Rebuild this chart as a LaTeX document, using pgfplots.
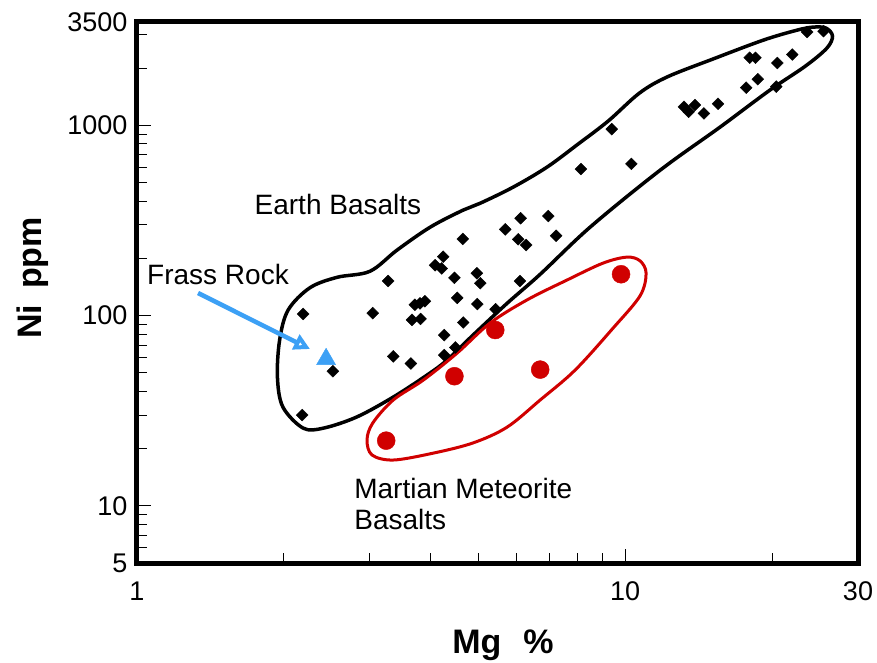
\documentclass[border=0pt]{standalone}
\usepackage{fontspec}
\setmainfont{Liberation Sans}
\usepackage{pgfplots}
\pgfplotsset{compat=1.18}
\usetikzlibrary{arrows.meta}
\definecolor{mred}{RGB}{208,0,0}
\definecolor{mblue}{RGB}{60,160,245}
\begin{document}
\begin{tikzpicture}
\useasboundingbox (-137pt,-99pt) rectangle (740pt,563pt);
\begin{axis}[
 at={(0pt,0pt)}, anchor=south west,
 scale only axis, width=721pt, height=541pt,
 xmode=log, ymode=log,
 xmin=1, xmax=30, ymin=5, ymax=3500,
 axis line style={line width=5pt},
 xtick={1,10,30}, xticklabels={1,10,30},
 ytick={5,10,100,1000,3500}, yticklabels={5,10,100,1000,3500},
 minor xtick={2,3,4,5,6,7,8,9,20},
 minor ytick={6,7,8,9,20,30,40,50,60,70,80,90,200,300,400,500,600,700,800,900,2000,3000},
 tick align=inside, tick pos=left,
 major tick length=14pt, minor tick length=10pt,
 every tick/.style={black, line width=1pt},
 ticklabel style={font=\fontsize{27}{32}\selectfont},
 xticklabel style={yshift=-15pt},
 yticklabel style={xshift=-6pt},
 xlabel={Mg\hspace{22pt}\%}, ylabel={Ni\hspace{16pt}ppm},
 label style={font=\fontsize{34}{40}\selectfont\bfseries},
 xlabel style={at={(axis description cs:0.5076,-0.1664)}, anchor=base},
 ylabel style={at={(axis description cs:-0.1318,0.5268)}, anchor=base},
 clip=false,
]
% Earth basalt envelope
\addplot[black, line width=3.5pt, smooth cycle, tension=0.55] coordinates {
(25.8,3250)(24.3,3290)(22.5,3170)(19.2,2810)(15.1,2230)(12.2,1800)(10.7,1480)
(9.23,1054)(8.01,798)(6.92,604)(5.90,474)(5.05,390)(4.66,359)(3.99,292)(3.41,221)
(3.00,171)(2.57,159)(2.26,140)(2.04,107)(1.96,74.4)(1.94,47.5)(1.99,33.1)(2.19,25.6)
(2.41,25.6)(2.82,29.3)(3.35,37.3)(3.93,48.7)(4.32,58.4)(4.88,79)(5.73,116)(6.70,165)
(8.48,292)(11.8,582)(15.65,980)(19.8,1534)(23.4,2050)(25.9,2550)(26.6,2950)
};
% Martian envelope
\addplot[mred, line width=3pt, smooth cycle, tension=0.55] coordinates {
(10.09,203)(10.73,194)(11.04,167)(10.73,127)(9.45,86)(7.90,51.7)(6.70,36)(5.73,25.9)
(4.88,21.4)(4.04,18.9)(3.35,17.4)(3.03,18.5)(2.96,22.2)(3.04,27.2)(3.35,36)(3.86,45.8)
(4.53,63.6)(5.29,91.4)(6.30,121)(7.61,154)(9.02,189)
};
% Earth basalts
\addplot[only marks, mark=square*, mark size=4.2pt, mark options={rotate=45, fill=black, draw=black}] coordinates {
(2.19,102)(3.04,103)(3.27,152)(2.52,51)(2.18,30)(3.35,61)(3.64,56)(3.71,114)(3.80,116)
(3.89,119)(3.66,95)(3.81,96)(4.24,204)(4.08,184)(4.21,177)(4.65,253)(4.47,158)(4.53,124)
(4.66,92)(4.26,79)(4.49,68)(4.26,62)(4.97,167)(5.05,148)(4.98,115)(5.43,108)(5.68,284)
(6.11,325)(6.96,334)(7.22,263)(6.04,252)(6.27,235)(6.09,152)(8.12,590)(9.39,956)
(10.3,628)(13.2,1253)(13.5,1180)(13.9,1280)(14.5,1157)(15.5,1300)(18.0,2270)(18.5,2270)
(17.7,1580)(18.7,1750)(20.5,2130)(22.0,2360)(20.4,1600)(23.6,3100)(25.5,3130)
};
% Martian meteorites
\addplot[only marks, mark=*, mark size=9pt, mark options={fill=mred, draw=mred}] coordinates {
(3.24,22)(4.47,48)(5.42,84)(6.70,52)(9.81,165)
};
% Frass Rock
\addplot[only marks, mark=triangle*, mark size=11pt, mark options={fill=mblue, draw=mblue}] coordinates {
(2.44,59)
};
\draw[mblue, line width=4.5pt, -{Triangle[open, length=16pt, width=16pt]}] (axis cs:1.334,131.4) -- (axis cs:2.262,66.7);
\node[font=\fontsize{28}{31}\selectfont] at (axis cs:2.58,386) {Earth Basalts};
\node[font=\fontsize{28}{31}\selectfont] at (axis cs:1.4655,165) {Frass Rock};
\node[anchor=north west, inner sep=0pt, align=left, font=\fontsize{28}{31}\selectfont] at (axis cs:2.785,14.0) {Martian Meteorite\\Basalts};
\end{axis}
\end{tikzpicture}
\end{document}
